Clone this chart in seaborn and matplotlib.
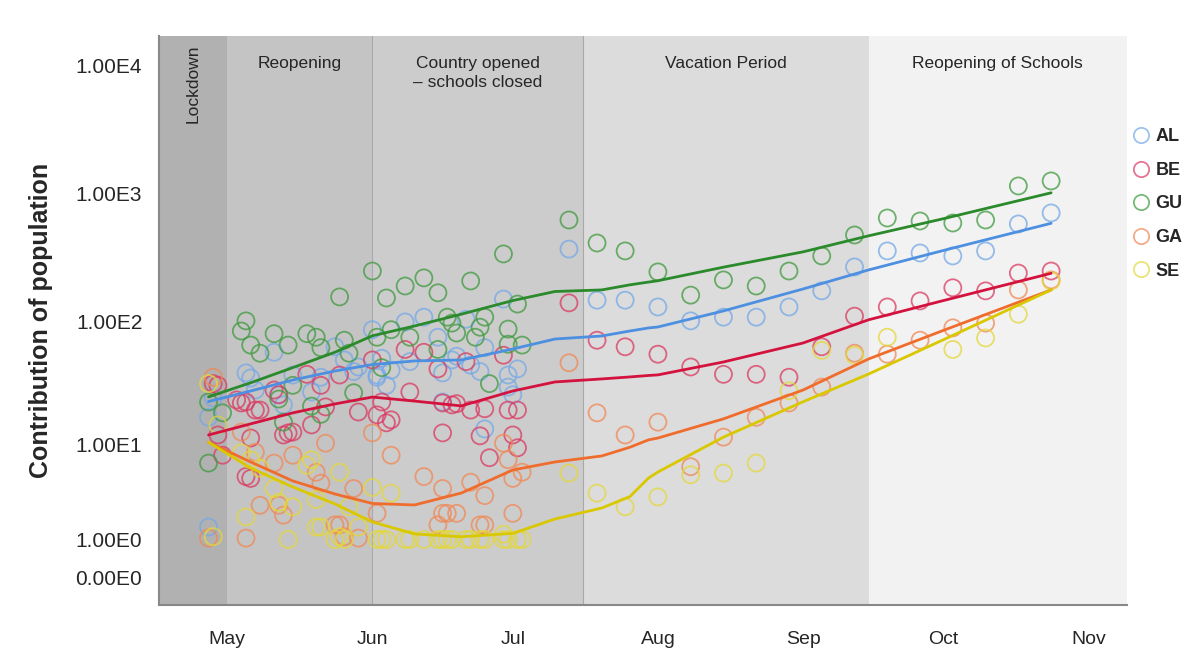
import matplotlib
matplotlib.use("Agg")
import matplotlib.pyplot as plt
import matplotlib.dates as mdates
from matplotlib.lines import Line2D
import numpy as np
import pandas as pd
import seaborn as sns

sites = ["AL", "BE", "GU", "GA", "SE"]

# scatter values (date, value) per site
al_dates = ["04-27", "04-28", "04-27", "04-29", "05-05", "05-06", "05-07", "05-11", "05-12", "05-13",
            "05-15", "05-19", "05-21", "05-24", "05-26", "05-28", "05-29", "06-01", "06-02", "06-08",
            "06-12", "06-15", "06-21", "06-25", "06-29", "07-13", "06-03", "06-05", "06-02", "06-04",
            "06-09", "06-16", "06-18", "06-19", "06-22", "06-24", "06-30", "06-30", "07-01", "07-02",
            "06-16", "06-25", "07-19", "07-25", "08-01", "08-08", "08-15", "08-22", "08-29", "09-05",
            "09-12", "09-19", "09-26", "10-03", "10-10", "10-17", "10-24"]
al_vals = [1.5, 24.5, 17, 14.7, 39, 35.5, 28.4, 57, 26, 21.5,
           37.5, 27.4, 36, 63, 49.5, 40, 43.5, 86, 36, 99,
           108, 75, 104, 62, 150, 370, 51, 41, 37.5, 31,
           48, 39, 49.5, 53, 45, 40, 37.5, 30, 26, 42,
           22.7, 13.6, 147, 147, 130, 101, 108, 108, 130, 174,
           268, 358, 345, 327, 358, 582, 710]

be_dates = ["04-28", "04-29", "05-03", "05-05", "05-07", "05-11", "05-12", "05-18", "05-21", "05-25",
            "05-29", "06-01", "06-02", "04-29", "04-30", "05-04", "05-06", "05-08", "05-06", "05-05",
            "05-13", "05-14", "05-15", "05-19", "05-22", "06-08", "06-12", "06-15", "06-21", "06-29",
            "07-13", "06-09", "06-03", "06-16", "06-18", "06-19", "06-22", "06-25", "06-30", "07-02",
            "06-05", "06-04", "06-16", "06-24", "07-01", "07-02", "06-26", "07-19", "07-25", "08-01",
            "08-08", "08-15", "08-22", "08-29", "09-05", "09-12", "09-19", "09-26", "10-03", "10-10",
            "10-17", "10-24"]
be_vals = [32, 31, 23.6, 22.7, 19.5, 28.4, 26, 38, 31, 37.5,
           18.8, 49.5, 17.8, 12.1, 8.1, 22.3, 11.4, 19.5, 5.0, 5.2,
           12.1, 12.6, 12.8, 14.7, 20.7, 60, 57, 42, 48, 54,
           140, 27.4, 22.7, 22.3, 21.5, 22, 19.5, 20, 19.5, 19.5,
           16.2, 15.3, 12.6, 11.9, 12.1, 9.4, 7.7, 71, 63, 55,
           43.5, 38, 38, 36, 63, 110, 130, 145, 184, 174,
           240, 249]

gu_dates = ["04-27", "04-27", "04-30", "05-04", "05-05", "05-06", "05-08", "05-11", "05-14", "05-12",
            "05-15", "05-18", "05-20", "05-21", "05-25", "05-26", "05-27", "05-28", "06-01", "06-04",
            "06-08", "06-12", "06-15", "06-22", "06-29", "07-13", "07-19", "07-25", "08-01", "08-08",
            "08-15", "08-22", "08-29", "09-05", "09-12", "09-19", "09-26", "10-03", "10-10", "10-17",
            "10-24", "06-17", "06-18", "06-19", "06-24", "06-25", "06-23", "06-30", "06-30", "07-03",
            "07-02", "06-15", "06-09", "06-05", "06-02", "06-03", "06-26", "05-19", "05-21", "05-13"]
gu_vals = [6.9, 22.7, 18.5, 84, 101, 65, 56, 80, 65, 24,
           31, 80, 75, 62, 156, 71, 56, 27, 249, 153,
           190, 220, 168, 208, 339, 625, 413, 358, 245, 161,
           212, 190, 249, 327, 477, 648, 614, 592, 625, 1154,
           1263, 108, 97, 81, 90, 108, 75, 87, 66, 65,
           137, 60, 75, 86, 75, 43, 32, 21, 18, 15.5]

ga_dates = ["04-28", "04-27", "05-04", "05-07", "05-11", "05-15", "05-20", "05-21", "05-22", "05-28",
            "06-01", "06-02", "05-08", "05-12", "05-13", "05-24", "05-25", "05-26", "05-29", "05-05",
            "06-05", "06-12", "06-16", "06-22", "06-25", "06-29", "06-30", "07-01", "07-03", "07-01",
            "06-15", "06-16", "06-17", "06-19", "06-24", "06-25", "07-19", "07-13", "07-25", "08-01",
            "08-08", "08-15", "08-22", "08-29", "09-05", "09-12", "09-19", "09-26", "10-03", "10-10",
            "10-17", "10-24"]
ga_vals = [36, 1.05, 12.8, 8.6, 6.9, 8.1, 5.7, 4.5, 10.3, 4.0,
           12.6, 2.2, 2.7, 2.7, 2.1, 1.6, 1.6, 1.1, 1.05, 1.05,
           8.1, 5.2, 4.0, 4.6, 3.4, 10.3, 7.4, 5.0, 5.7, 2.2,
           1.6, 2.2, 2.2, 2.2, 1.6, 1.6, 18.5, 47, 12.1, 15.5,
           6.4, 11.6, 17, 22.3, 30, 56, 55, 71, 89, 97,
           177, 212]

se_dates = ["04-27", "04-29", "05-04", "05-06", "05-08", "05-11", "05-18", "05-19", "05-20", "05-25",
            "05-27", "05-15", "05-12", "05-05", "04-28", "05-14", "05-20", "05-21", "05-25", "06-01",
            "05-29", "06-05", "07-13", "05-24", "05-26", "06-02", "06-03", "06-04", "06-08", "06-09",
            "06-12", "06-15", "06-16", "06-17", "06-18", "06-21", "06-22", "06-24", "06-25", "06-29",
            "06-30", "07-02", "07-03", "06-29", "07-19", "07-25", "08-01", "08-08", "08-15", "08-22",
            "08-29", "09-05", "09-12", "09-19", "10-03", "10-10", "10-17", "10-24"]
se_vals = [32, 14.7, 8.5, 7.4, 6.2, 4.0, 6.6, 7.4, 3.1, 5.7,
           2.6, 2.6, 2.9, 2.0, 1.1, 1.0, 1.5, 1.5, 1.1, 4.1,
           1.5, 3.6, 5.6, 1.0, 1.0, 1.0, 1.0, 1.0, 1.0, 1.0,
           1.0, 1.0, 1.0, 1.0, 1.0, 1.0, 1.0, 1.0, 1.0, 1.0,
           1.0, 1.0, 1.0, 1.2, 3.6, 2.6, 3.3, 5.4, 5.6, 6.9,
           28, 59, 54, 75, 60, 74, 114, 208]

# smoothed trend lines
line_dates = ["04-27", "05-06", "05-15", "05-24", "06-01", "06-10", "06-20", "07-01", "07-10",
              "07-20", "07-26", "07-30", "08-01", "08-15", "09-01", "09-15", "10-01", "10-24"]
al_line = [22.9, 27.9, 34.2, 40.4, 45.5, 48.6, 49.5, 60.5, 72.6, 76.7, 84, 88.8, 90.4, 121, 180, 254, 361, 589]
be_line = [12.1, 15, 18.5, 21.9, 24.9, 23.1, 21.1, 27.9, 33, 34.9, 36.2, 37.2, 37.6, 47.7, 67.5, 103, 146, 239]
gu_line = [25, 32.5, 43, 57, 77, 92, 114, 146, 172, 177, 194, 204, 209, 267, 352, 470, 640, 1020]
ga_line = [10.5, 7.06, 4.73, 3.53, 2.82, 2.72, 3.61, 5.98, 7.06, 7.98, 9.5, 11, 11.4, 16.5, 28.4, 50.4, 85, 177]
se_line = [10.5, 6.23, 4.14, 2.79, 1.74, 1.21, 1.10, 1.23, 1.89, 2.52, 3.32, 5.04, 5.73, 11.6, 22.8, 38.2, 71.7, 177]

# periods
period_names = ["Lockdown", "Reopening", "Country opened\n– schools closed", "Vacation Period",
                "Reopening of Schools"]
period_starts = ["2020-04-01", "2020-05-01", "2020-06-01", "2020-07-16", "2020-09-15"]
period_ends = ["2020-05-01", "2020-06-01", "2020-07-16", "2020-09-15", "2020-12-01"]
period_colors = ["#b1b1b1", "#c4c4c4", "#cccccc", "#dcdcdc", "#f2f2f2"]

point_colors = {"AL": "#74a8e6", "BE": "#da3a62", "GU": "#3f9a3f", "GA": "#f08855", "SE": "#e4d83a"}
line_colors = {"AL": "#4d8fe0", "BE": "#d4123e", "GU": "#2b8a2b", "GA": "#f06c2c", "SE": "#d9c800"}

ytick_vals = [0, 1, 10, 100, 1000, 10000]
ytick_labels = ["0.00E0", "1.00E0", "1.00E1", "1.00E2", "1.00E3", "1.00E4"]


def to_frame(pairs):
    rows = []
    for site, dates, vals in pairs:
        rows.append(pd.DataFrame({"date": pd.to_datetime(["2020-" + d for d in dates]),
                                  "value": vals, "site": site}))
    return pd.concat(rows, ignore_index=True)


points = to_frame([("AL", al_dates, al_vals), ("BE", be_dates, be_vals), ("GU", gu_dates, gu_vals),
                   ("GA", ga_dates, ga_vals), ("SE", se_dates, se_vals)])
lines = to_frame([("AL", line_dates, al_line), ("BE", line_dates, be_line), ("GU", line_dates, gu_line),
                  ("GA", line_dates, ga_line), ("SE", line_dates, se_line)])

sns.set_style("white")
plt.rcParams["font.family"] = ["Liberation Sans", "DejaVu Sans"]

fig = plt.figure(figsize=(11.87, 6.64), dpi=100)
ax = fig.add_axes([159 / 1187, 1 - 605 / 664, (1127 - 159) / 1187, (605 - 36) / 664])

for start, end, col in zip(period_starts, period_ends, period_colors):
    ax.axvspan(pd.Timestamp(start), pd.Timestamp(end), color=col, lw=0, zorder=0)
for b in ["2020-06-01", "2020-07-16"]:
    ax.axvline(pd.Timestamp(b), color="#a9a9a9", lw=0.8, zorder=0.5)

sns.scatterplot(data=points, x="date", y="value", hue="site", hue_order=sites, palette=point_colors,
                s=150, linewidth=1.3, alpha=0.75, legend=False, ax=ax, zorder=2)
pts = ax.collections[-1]
pts.set_edgecolors(pts.get_facecolors())
pts.set_facecolors("none")

sns.lineplot(data=lines, x="date", y="value", hue="site", hue_order=sites, palette=line_colors,
             linewidth=2.0, errorbar=None, legend=False, ax=ax, zorder=3)


def fwd(v):
    return np.log10(np.clip(1 + np.asarray(v, dtype=float), 1e-6, None))


def inv(t):
    return 10 ** np.asarray(t, dtype=float) - 1


ax.set_yscale("function", functions=(fwd, inv))
ax.set_ylim(inv(-0.211), inv(4.234))
ax.set_yticks(ytick_vals)
ax.set_yticklabels(ytick_labels)
ax.minorticks_off()

ax.set_xlim(pd.Timestamp("2020-04-16 10:00"), pd.Timestamp("2020-11-09 05:00"))
ax.xaxis.set_major_locator(mdates.MonthLocator(bymonth=range(5, 12)))
ax.xaxis.set_major_formatter(mdates.DateFormatter("%b"))

mids = [pd.Timestamp("2020-04-23 17:00"), pd.Timestamp("2020-05-16 12:00"), pd.Timestamp("2020-06-23 12:00"),
        pd.Timestamp("2020-08-15 12:00"), pd.Timestamp("2020-10-12 12:00")]
trans = ax.get_xaxis_transform()
for name, mid in zip(period_names, mids):
    if name == "Lockdown":
        ax.text(mid, 0.985, name, rotation=90, ha="center", va="top", fontsize=12.5, transform=trans)
    else:
        ax.text(mid, 0.965, name, ha="center", va="top", fontsize=12.5, transform=trans,
                linespacing=1.35)

ax.set_xlabel("")
ax.set_ylabel("Contribution of population", fontsize=18, fontweight="bold", labelpad=16)

for side in ["top", "right"]:
    ax.spines[side].set_visible(False)
for side in ["left", "bottom"]:
    ax.spines[side].set_color("#888888")
    ax.spines[side].set_linewidth(1.5)
ax.tick_params(axis="y", direction="out", length=8, width=1, color="#555555", labelsize=15, pad=4)
ax.tick_params(axis="x", direction="out", length=11, width=1, color="#555555", labelsize=14, pad=8)

handles = [Line2D([], [], ls="none", marker="o", ms=11, mfc="none", mec=point_colors[s], mew=1.3,
                  alpha=0.7, label=s) for s in sites]
fig.legend(handles=handles, loc="upper left", bbox_to_anchor=(1114 / 1187, 1 - 112 / 664),
           frameon=False, prop={"weight": "bold", "size": 13}, handletextpad=0.2,
           labelspacing=0.92, handlelength=1.2)

fig.savefig("out.png", dpi=100)
